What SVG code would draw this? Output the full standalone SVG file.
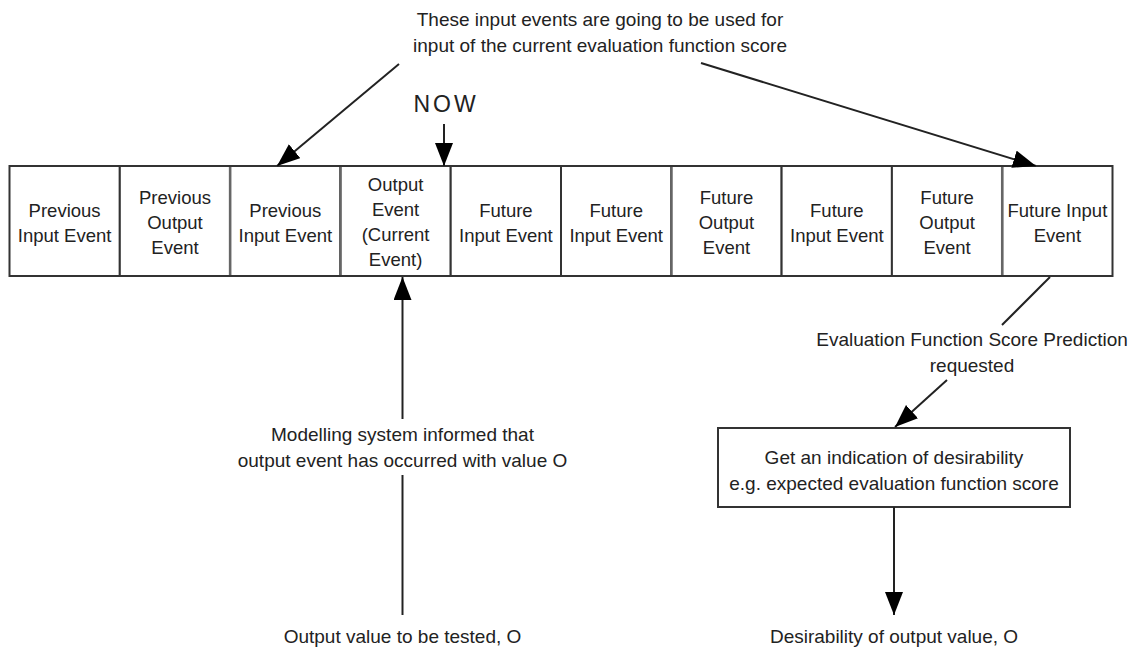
<svg xmlns="http://www.w3.org/2000/svg" width="1139" height="652" viewBox="0 0 1139 652">
  <style>
    .lbl { font-family: "Liberation Sans", Arial, sans-serif; font-size: 19px; fill: #222; text-anchor: middle; }
    .cell-text { font-family: "Liberation Sans", Arial, sans-serif; font-size: 18.5px; fill: #222; text-anchor: middle; }
    .now { font-family: "Liberation Sans", Arial, sans-serif; font-size: 23px; fill: #222; text-anchor: middle; letter-spacing: 3px; }
    .cell { fill: #fff; stroke: #333; stroke-width: 2; }
    .div-soft { stroke: #666; stroke-width: 2.5; }
    .box { fill: #fff; stroke: #333; stroke-width: 2; }
    .conn { fill: none; stroke: #222; stroke-width: 2; }
  </style>
  <defs>
    <marker id="arrow" markerUnits="userSpaceOnUse" markerWidth="24" markerHeight="20" refX="23" refY="9" orient="auto">
      <path d="M0,0 L23,9 L0,18 z" fill="#000"/>
    </marker>
  </defs>
  <rect width="1139" height="652" fill="#fff"/>

  <!-- time line of events -->
  <g id="timeline">
    <g id="cell-prev-input-1">
      <rect class="cell" x="9.5" y="166" width="110.3" height="110"/>
      <text class="cell-text" x="64.6"><tspan x="64.6" y="217">Previous</tspan><tspan x="64.6" y="242">Input Event</tspan></text>
    </g>
    <g id="cell-prev-output">
      <rect class="cell" x="119.8" y="166" width="110.3" height="110"/>
      <text class="cell-text"><tspan x="175" y="204">Previous</tspan><tspan x="175" y="229">Output</tspan><tspan x="175" y="254">Event</tspan></text>
    </g>
    <g id="cell-prev-input-2">
      <rect class="cell" x="230.1" y="166" width="110.3" height="110"/>
      <text class="cell-text"><tspan x="285.3" y="217">Previous</tspan><tspan x="285.3" y="242">Input Event</tspan></text>
    </g>
    <g id="cell-current-output">
      <rect class="cell" x="340.4" y="166" width="110.3" height="110"/>
      <text class="cell-text"><tspan x="395.6" y="191">Output</tspan><tspan x="395.6" y="216">Event</tspan><tspan x="395.6" y="241">(Current</tspan><tspan x="395.6" y="266">Event)</tspan></text>
    </g>
    <g id="cell-future-input-1">
      <rect class="cell" x="450.7" y="166" width="110.3" height="110"/>
      <text class="cell-text"><tspan x="505.9" y="217">Future</tspan><tspan x="505.9" y="242">Input Event</tspan></text>
    </g>
    <g id="cell-future-input-2">
      <rect class="cell" x="561" y="166" width="110.3" height="110"/>
      <text class="cell-text"><tspan x="616.2" y="217">Future</tspan><tspan x="616.2" y="242">Input Event</tspan></text>
    </g>
    <g id="cell-future-output-1">
      <rect class="cell" x="671.3" y="166" width="110.3" height="110"/>
      <text class="cell-text"><tspan x="726.5" y="204">Future</tspan><tspan x="726.5" y="229">Output</tspan><tspan x="726.5" y="254">Event</tspan></text>
    </g>
    <g id="cell-future-input-3">
      <rect class="cell" x="781.6" y="166" width="110.3" height="110"/>
      <text class="cell-text"><tspan x="836.8" y="217">Future</tspan><tspan x="836.8" y="242">Input Event</tspan></text>
    </g>
    <g id="cell-future-output-2">
      <rect class="cell" x="891.9" y="166" width="110.3" height="110"/>
      <text class="cell-text"><tspan x="947.1" y="204">Future</tspan><tspan x="947.1" y="229">Output</tspan><tspan x="947.1" y="254">Event</tspan></text>
    </g>
    <g id="cell-future-input-4">
      <rect class="cell" x="1002.2" y="166" width="110.3" height="110"/>
      <text class="cell-text"><tspan x="1057.4" y="217">Future Input</tspan><tspan x="1057.4" y="242">Event</tspan></text>
    </g>
    <!-- slightly heavier grey dividers -->
    <line class="div-soft" x1="230.1" y1="167" x2="230.1" y2="275"/>
    <line class="div-soft" x1="340.4" y1="167" x2="340.4" y2="275"/>
    <line class="div-soft" x1="671.3" y1="167" x2="671.3" y2="275"/>
    <line class="div-soft" x1="1002.2" y1="167" x2="1002.2" y2="275"/>
  </g>

  <!-- desirability evaluation box -->
  <g id="node-desirability">
    <rect class="box" x="718" y="428" width="352" height="79"/>
    <text class="lbl"><tspan x="894" y="464">Get an indication of desirability</tspan><tspan x="894" y="490">e.g. expected evaluation function score</tspan></text>
  </g>

  <!-- free-standing labels -->
  <g id="label-inputs">
    <text class="lbl"><tspan x="600" y="26">These input events are going to be used for</tspan><tspan x="600" y="52">input of the current evaluation function score</tspan></text>
  </g>
  <g id="label-now">
    <text class="now" x="446" y="112">NOW</text>
  </g>
  <g id="label-modelling">
    <text class="lbl"><tspan x="402.5" y="441">Modelling system informed that</tspan><tspan x="402.5" y="467">output event has occurred with value O</tspan></text>
  </g>
  <g id="label-output-value">
    <text class="lbl" x="402.5" y="643">Output value to be tested, O</text>
  </g>
  <g id="label-prediction">
    <text class="lbl"><tspan x="972" y="346">Evaluation Function Score Prediction</tspan><tspan x="972" y="372">requested</tspan></text>
  </g>
  <g id="label-desirability-out">
    <text class="lbl" x="894" y="643">Desirability of output value, O</text>
  </g>

  <!-- connectors -->
  <g id="connectors">
    <line class="conn" x1="399" y1="64" x2="277" y2="166" marker-end="url(#arrow)"/>
    <line class="conn" x1="701" y1="63" x2="1036" y2="166" marker-end="url(#arrow)"/>
    <line class="conn" x1="444" y1="124" x2="444" y2="166" marker-end="url(#arrow)"/>
    <line class="conn" x1="402.5" y1="419" x2="402.5" y2="277" marker-end="url(#arrow)"/>
    <line class="conn" x1="402.5" y1="615" x2="402.5" y2="475"/>
    <line class="conn" x1="1050" y1="277" x2="1002" y2="325"/>
    <line class="conn" x1="947" y1="380" x2="895" y2="427" marker-end="url(#arrow)"/>
    <line class="conn" x1="894" y1="507" x2="894" y2="615" marker-end="url(#arrow)"/>
  </g>
</svg>
